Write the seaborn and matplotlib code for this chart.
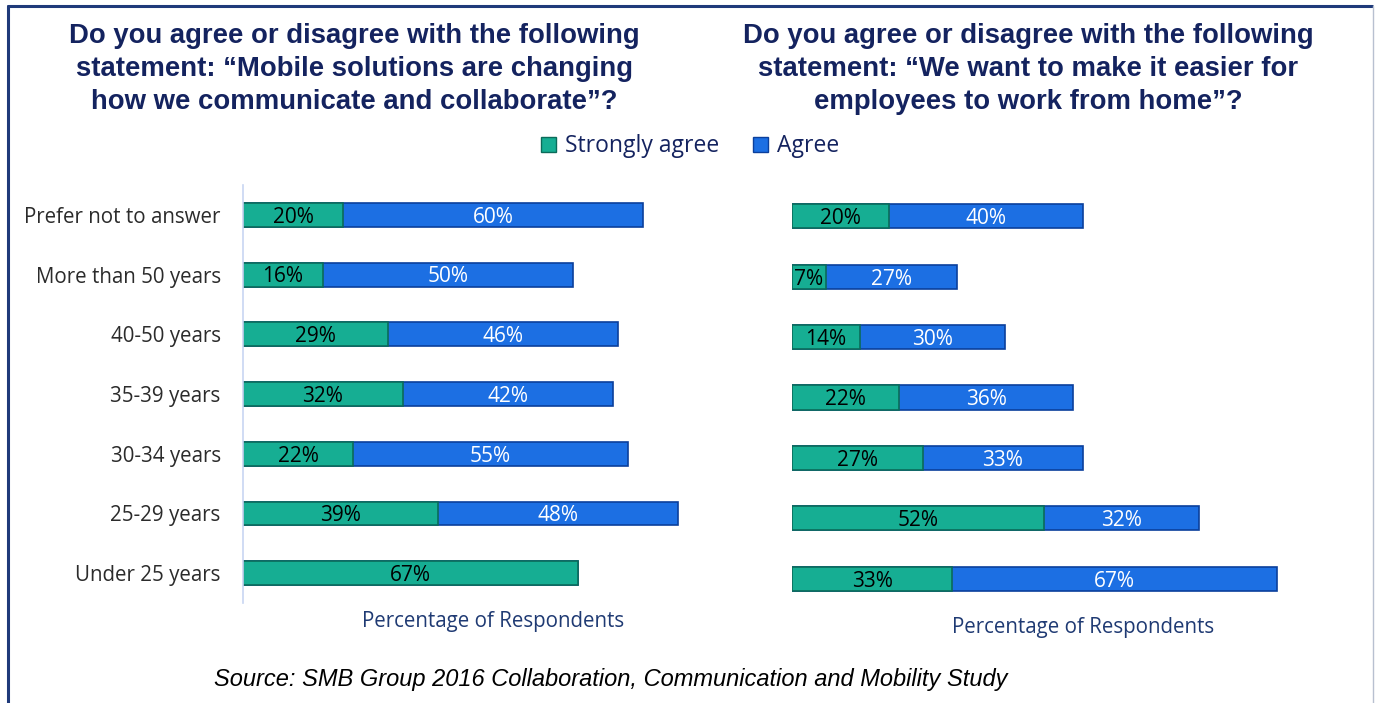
import numpy as np
import pandas as pd
import matplotlib
matplotlib.use('Agg')
import matplotlib.pyplot as plt
import seaborn as sns
from matplotlib.lines import Line2D

# age groups, top to bottom
groups = ['Prefer not to answer', 'More than 50 years', '40-50 years', '35-39 years',
          '30-34 years', '25-29 years', 'Under 25 years']

# "Mobile solutions are changing how we communicate and collaborate"
mobile_strong = [20, 16, 29, 32, 22, 39, 67]
mobile_agree = [60, 50, 46, 42, 55, 48, 0]

# "We want to make it easier for employees to work from home"
home_strong = [20, 7, 14, 22, 27, 52, 33]
home_agree = [40, 27, 30, 36, 33, 32, 67]

title_left = 'Do you agree or disagree with the following\nstatement: \u201cMobile solutions are changing\nhow we communicate and collaborate\u201d?'
title_right = 'Do you agree or disagree with the following\nstatement: \u201cWe want to make it easier for\nemployees to work from home\u201d?'
source = 'Source: SMB Group 2016 Collaboration, Communication and Mobility Study'

TEAL = '#16ae93'
BLUE = '#1c6fe3'
NAVY = '#14235f'

sns.set_theme(style='white')
plt.rcParams['font.family'] = ['Open Sans', 'DejaVu Sans']

fig = plt.figure(figsize=(13.75, 7.03), dpi=100)
ax1 = fig.add_axes([0.1767, 0.1422, 0.3636, 0.5946])
ax2 = fig.add_axes([0.576, 0.1337, 0.4233, 0.6017])


def draw_panel(ax, strong, agree, xmax, show_labels):
    df = pd.DataFrame({'group': groups, 'strong': strong, 'agree': agree})
    df['total'] = df['strong'] + df['agree']
    sns.barplot(data=df, y='group', x='total', color=BLUE, width=0.4,
                edgecolor='#0b3f9c', linewidth=1.2, ax=ax, saturation=1)
    sns.barplot(data=df, y='group', x='strong', color=TEAL, width=0.4,
                edgecolor='#0b6b5a', linewidth=1.2, ax=ax, saturation=1)
    for i, row in df.iterrows():
        ax.text(row['strong'] / 2, i + 0.04, f"{row['strong']}%", ha='center', va='center',
                fontsize=15, color='black')
        if row['agree'] > 0:
            ax.text(row['strong'] + row['agree'] / 2, i + 0.04, f"{row['agree']}%",
                    ha='center', va='center', fontsize=15, color='white')
    ax.set_xlim(0, xmax)
    ax.set_ylim(6.5, -0.5)
    ax.set_xticks([])
    ax.set_ylabel('')
    ax.set_xlabel('Percentage of Respondents', fontsize=14.8, color='#1f3a73', labelpad=6)
    for s in ['top', 'right', 'bottom']:
        ax.spines[s].set_visible(False)
    if show_labels:
        ax.spines['left'].set_color('#c8d6f2')
        ax.spines['left'].set_linewidth(1.2)
        ax.tick_params(axis='y', length=0, pad=16, labelsize=14.8, labelcolor='#2b2b2b')
    else:
        ax.spines['left'].set_visible(False)
        ax.set_yticks([])


draw_panel(ax1, mobile_strong, mobile_agree, 100, True)
draw_panel(ax2, home_strong, home_agree, 120, False)

fig.text(0.2575, 0.902, title_left, ha='center', va='center', fontsize=19.8,
         fontweight='bold', color=NAVY, family=['Liberation Sans', 'DejaVu Sans'],
         linespacing=1.36)
fig.text(0.748, 0.902, title_right, ha='center', va='center', fontsize=19.8,
         fontweight='bold', color=NAVY, family=['Liberation Sans', 'DejaVu Sans'],
         linespacing=1.36)

handles = [plt.Rectangle((0, 0), 1, 1, facecolor=TEAL, edgecolor='#0b6b5a'),
           plt.Rectangle((0, 0), 1, 1, facecolor=BLUE, edgecolor='#0b3f9c')]
fig.legend(handles, ['Strongly agree', 'Agree'], loc='center', bbox_to_anchor=(0.502, 0.792),
           ncol=2, frameon=False, fontsize=16.5, labelcolor=NAVY, handlelength=0.65,
           handleheight=0.65, handletextpad=0.4, columnspacing=1.5)

fig.text(0.444, 0.034, source, ha='center', va='center', fontsize=17, style='italic',
         color='black', family=['Liberation Sans', 'DejaVu Sans'])

# frame around the slide
fig.add_artist(Line2D([0.0055, 0.998], [0.9915, 0.9915], color='#1f3a7a', lw=2.2))
fig.add_artist(Line2D([0.0058, 0.0058], [0.0, 0.9915], color='#1f3a7a', lw=2.2))
fig.add_artist(Line2D([0.9985, 0.9985], [0.0, 0.9915], color='#b8c0d0', lw=1.0))

fig.savefig('out.png', dpi=100)
